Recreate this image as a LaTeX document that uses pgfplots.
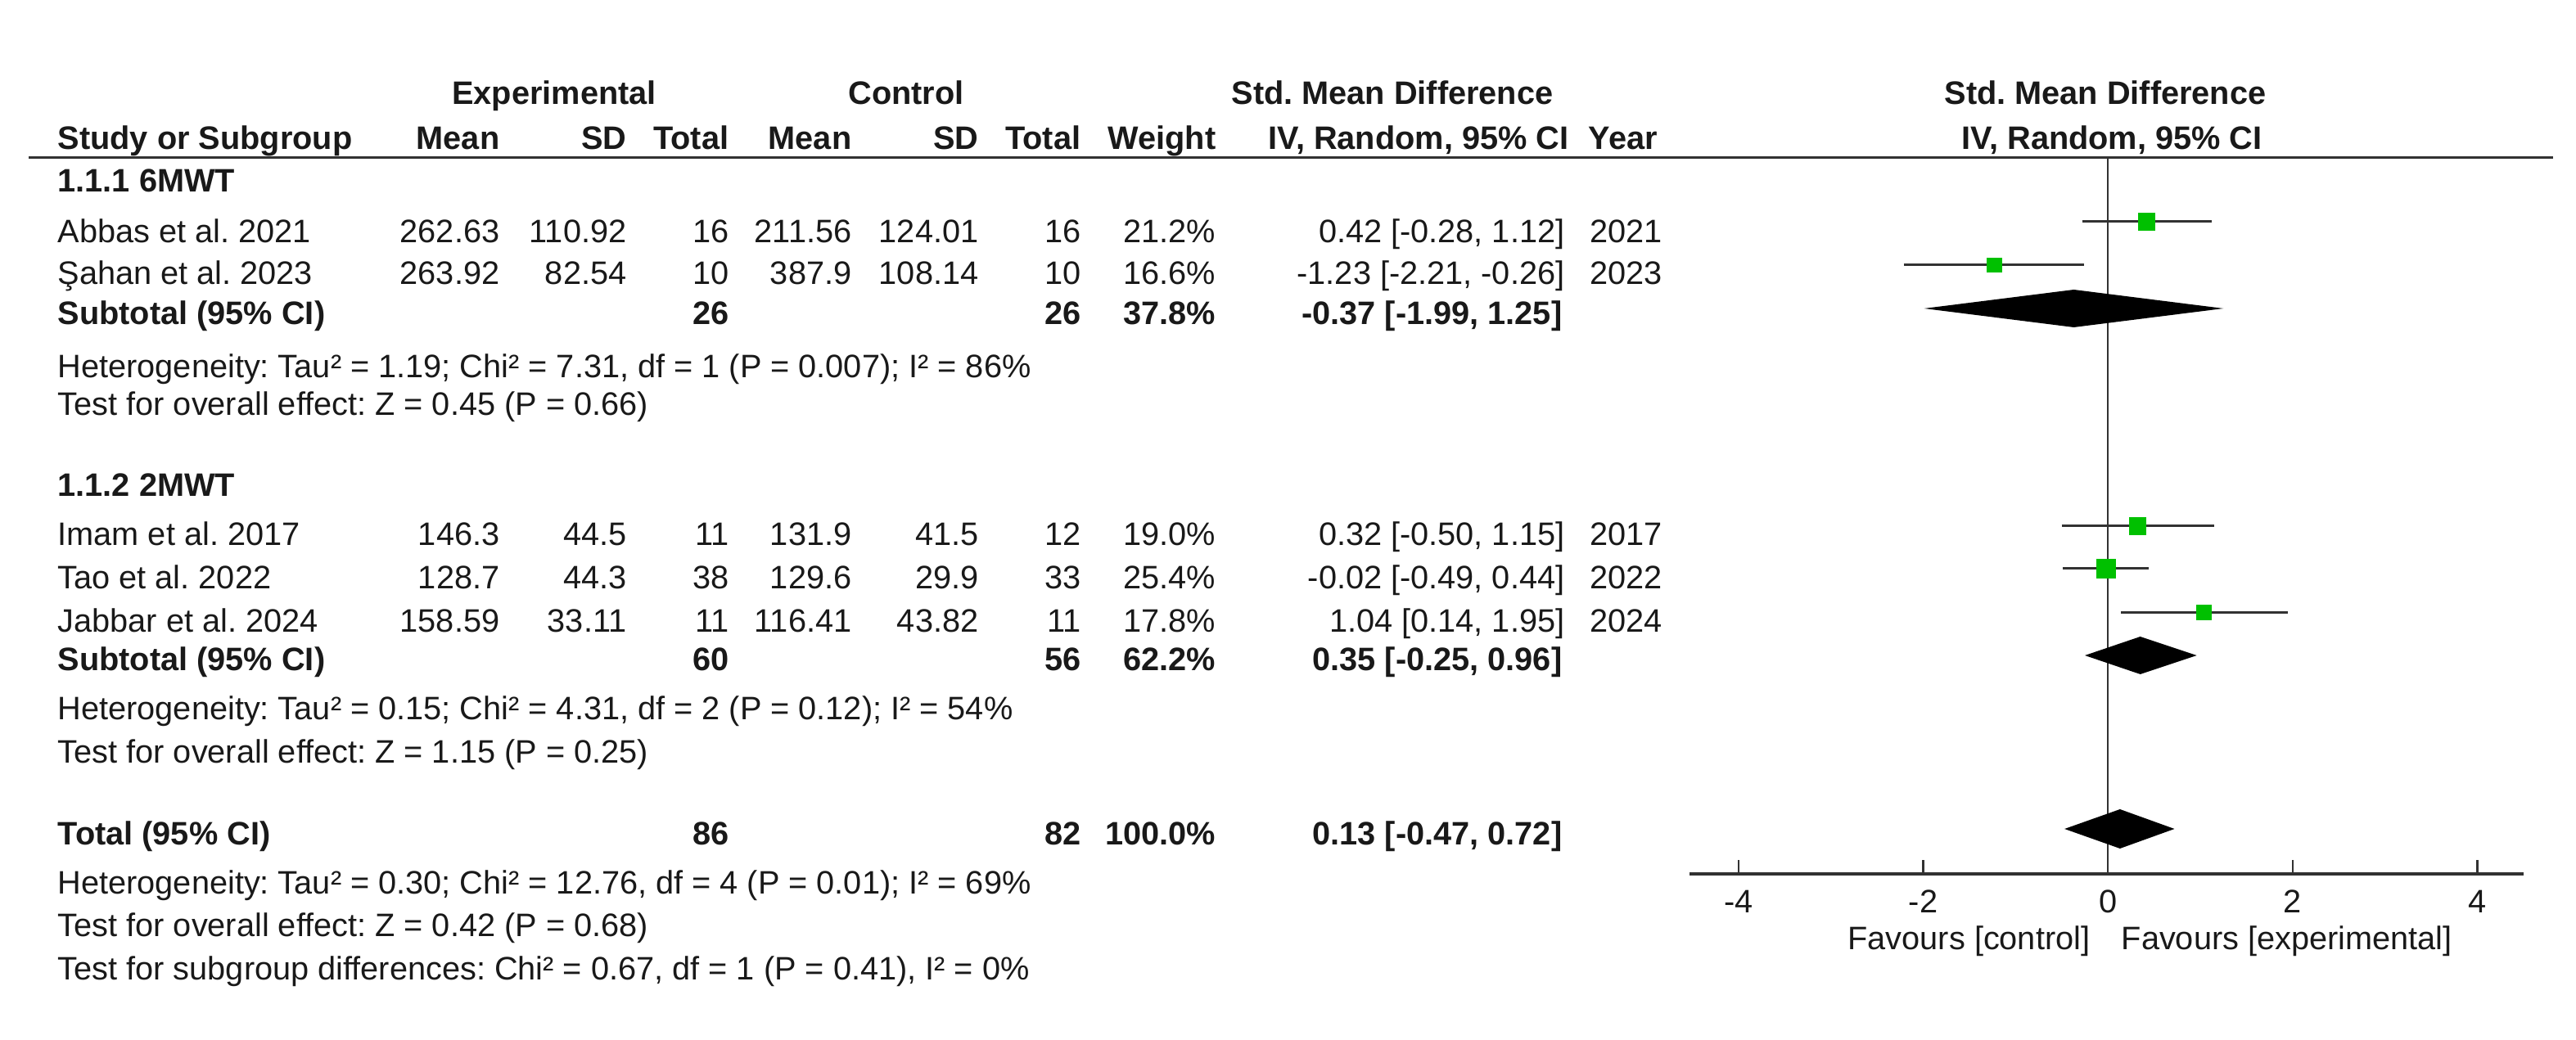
\documentclass[border=0pt]{standalone}
\usepackage{fontspec}
\setmainfont{Liberation Sans}
\usepackage{pgfplots}
\pgfplotsset{compat=1.18}
\definecolor{sqgreen}{RGB}{0,192,0}
\definecolor{txt}{RGB}{25,25,25}
\definecolor{ln}{RGB}{50,50,50}
% text helpers: x, y in pixels from the top left corner (baseline)
\newcommand{\Tl}[3]{\node[anchor=base west] at (axis cs:#1,#2) {#3};}
\newcommand{\Tr}[3]{\node[anchor=base east] at (axis cs:#1,#2) {#3};}
\newcommand{\Tc}[3]{\node[anchor=base] at (axis cs:#1,#2) {#3};}
\newcommand{\fs}{\fontsize{11.3pt}{13pt}\selectfont}
\frenchspacing
\begin{document}
\begin{tikzpicture}[font=\fs, every node/.style={inner sep=0pt, text=txt}]
% layout axis: the whole figure, in pixels
\begin{axis}[
    name=layout,
    at={(0,0)}, anchor=south west,
    width=314.7mm, height=127mm, scale only axis,
    xmin=0, xmax=3147, ymin=0, ymax=1270, y dir=reverse,
    hide axis, clip=false,
]
\path (axis cs:0,0) rectangle (axis cs:3147,1270);
% header
\Tc{677}{127}{\bfseries Experimental}
\Tc{1107}{127}{\bfseries Control}
\Tc{1701}{127}{\bfseries Std. Mean Difference}
\Tc{2572}{127}{\bfseries Std. Mean Difference}
\Tl{70}{182}{\bfseries Study or Subgroup}
\Tr{611}{182}{\bfseries Mean}
\Tr{766}{182}{\bfseries SD}
\Tr{891}{182}{\bfseries Total}
\Tr{1041}{182}{\bfseries Mean}
\Tr{1196}{182}{\bfseries SD}
\Tr{1321}{182}{\bfseries Total}
\Tr{1486}{182}{\bfseries Weight}
\Tr{1917}{182}{\bfseries IV, Random, 95\% CI}
\Tl{1940}{182}{\bfseries Year}
\Tc{2580}{182}{\bfseries IV, Random, 95\% CI}
\draw[line width=0.3mm, ln] (axis cs:35,192) -- (axis cs:3119,192);
% subgroup 1
\Tl{70}{234}{\bfseries 1.1.1 6MWT}
\Tl{70}{296}{Abbas et al. 2021}
\Tr{611}{296}{262.63}\Tr{766}{296}{110.92}\Tr{891}{296}{16}
\Tr{1041}{296}{211.56}\Tr{1196}{296}{124.01}\Tr{1321}{296}{16}
\Tr{1486}{296}{21.2\%}\Tr{1912}{296}{0.42 [-0.28, 1.12]}\Tl{1942}{296}{2021}
\Tl{70}{347}{Şahan et al. 2023}
\Tr{611}{347}{263.92}\Tr{766}{347}{82.54}\Tr{891}{347}{10}
\Tr{1041}{347}{387.9}\Tr{1196}{347}{108.14}\Tr{1321}{347}{10}
\Tr{1486}{347}{16.6\%}\Tr{1912}{347}{-1.23 [-2.21, -0.26]}\Tl{1942}{347}{2023}
\Tl{70}{396}{\bfseries Subtotal (95\% CI)}
\Tr{891}{396}{\bfseries 26}\Tr{1321}{396}{\bfseries 26}
\Tr{1486}{396}{\bfseries 37.8\%}\Tr{1909}{396}{\bfseries -0.37 [-1.99, 1.25]}
\Tl{70}{461}{Heterogeneity: Tau² = 1.19; Chi² = 7.31, df = 1 (P = 0.007); I² = 86\%}
\Tl{70}{507}{Test for overall effect: Z = 0.45 (P = 0.66)}
% subgroup 2
\Tl{70}{606}{\bfseries 1.1.2 2MWT}
\Tl{70}{666}{Imam et al. 2017}
\Tr{611}{666}{146.3}\Tr{766}{666}{44.5}\Tr{891}{666}{11}
\Tr{1041}{666}{131.9}\Tr{1196}{666}{41.5}\Tr{1321}{666}{12}
\Tr{1486}{666}{19.0\%}\Tr{1912}{666}{0.32 [-0.50, 1.15]}\Tl{1942}{666}{2017}
\Tl{70}{719}{Tao et al. 2022}
\Tr{611}{719}{128.7}\Tr{766}{719}{44.3}\Tr{891}{719}{38}
\Tr{1041}{719}{129.6}\Tr{1196}{719}{29.9}\Tr{1321}{719}{33}
\Tr{1486}{719}{25.4\%}\Tr{1912}{719}{-0.02 [-0.49, 0.44]}\Tl{1942}{719}{2022}
\Tl{70}{772}{Jabbar et al. 2024}
\Tr{611}{772}{158.59}\Tr{766}{772}{33.11}\Tr{891}{772}{11}
\Tr{1041}{772}{116.41}\Tr{1196}{772}{43.82}\Tr{1321}{772}{11}
\Tr{1486}{772}{17.8\%}\Tr{1912}{772}{1.04 [0.14, 1.95]}\Tl{1942}{772}{2024}
\Tl{70}{819}{\bfseries Subtotal (95\% CI)}
\Tr{891}{819}{\bfseries 60}\Tr{1321}{819}{\bfseries 56}
\Tr{1486}{819}{\bfseries 62.2\%}\Tr{1909}{819}{\bfseries 0.35 [-0.25, 0.96]}
\Tl{70}{879}{Heterogeneity: Tau² = 0.15; Chi² = 4.31, df = 2 (P = 0.12); I² = 54\%}
\Tl{70}{932}{Test for overall effect: Z = 1.15 (P = 0.25)}
% total
\Tl{70}{1032}{\bfseries Total (95\% CI)}
\Tr{891}{1032}{\bfseries 86}\Tr{1321}{1032}{\bfseries 82}
\Tr{1486}{1032}{\bfseries 100.0\%}\Tr{1909}{1032}{\bfseries 0.13 [-0.47, 0.72]}
\Tl{70}{1092}{Heterogeneity: Tau² = 0.30; Chi² = 12.76, df = 4 (P = 0.01); I² = 69\%}
\Tl{70}{1144}{Test for overall effect: Z = 0.42 (P = 0.68)}
\Tl{70}{1197}{Test for subgroup differences: Chi² = 0.67, df = 1 (P = 0.41), I² = 0\%}
% favours labels
\Tr{2554}{1160}{Favours [control]}
\Tl{2591}{1160}{Favours [experimental]}
\end{axis}

% forest plot axis (y = 1270 - pixel row)
\begin{axis}[
    at={(206.4mm,20.2mm)}, anchor=south west,
    width=101.9mm, height=87.6mm, scale only axis,
    xmin=-4.53, xmax=4.5, ymin=202, ymax=1078,
    axis x line*=bottom, axis y line=none,
    x axis line style={line width=0.35mm, ln},
    xtick={-4,-2,0,2,4}, xticklabels={-4,-2,0,2,4},
    ytick=\empty,
    tick align=inside, major tick length=1.7mm,
    xtick style={line width=0.25mm, ln},
    xticklabel style={font=\fs, anchor=base, yshift=-4.7mm, inner sep=0pt},
    clip=false,
    ci/.style={line width=0.3mm, ln, no marks},
    sq/.style={only marks, mark=square*, sqgreen, mark options={draw=none, fill=sqgreen}},
    dm/.style={fill=black, draw=none, no marks},
]
% line of no effect
\addplot[line width=0.18mm, ln, no marks] coordinates {(0,202) (0,1078)};
% subgroup 1
\addplot[ci] coordinates {(-0.28,999) (1.12,999)};
\addplot[sq, mark size=1.0mm] coordinates {(0.42,999)};
\addplot[ci] coordinates {(-2.21,946) (-0.26,946)};
\addplot[sq, mark size=0.87mm] coordinates {(-1.23,946)};
\addplot[dm] coordinates {(-1.99,893) (-0.37,916) (1.25,893) (-0.37,870)} -- cycle;
% subgroup 2
\addplot[ci] coordinates {(-0.50,627) (1.15,627)};
\addplot[sq, mark size=1.0mm] coordinates {(0.32,627)};
\addplot[ci] coordinates {(-0.49,575) (0.44,575)};
\addplot[sq, mark size=1.15mm] coordinates {(-0.02,575)};
\addplot[ci] coordinates {(0.14,521) (1.95,521)};
\addplot[sq, mark size=0.88mm] coordinates {(1.04,521)};
\addplot[dm] coordinates {(-0.25,469) (0.35,492) (0.96,469) (0.35,446)} -- cycle;
% total
\addplot[dm] coordinates {(-0.47,257) (0.13,281) (0.72,257) (0.13,233)} -- cycle;
\end{axis}
\end{tikzpicture}
\end{document}
